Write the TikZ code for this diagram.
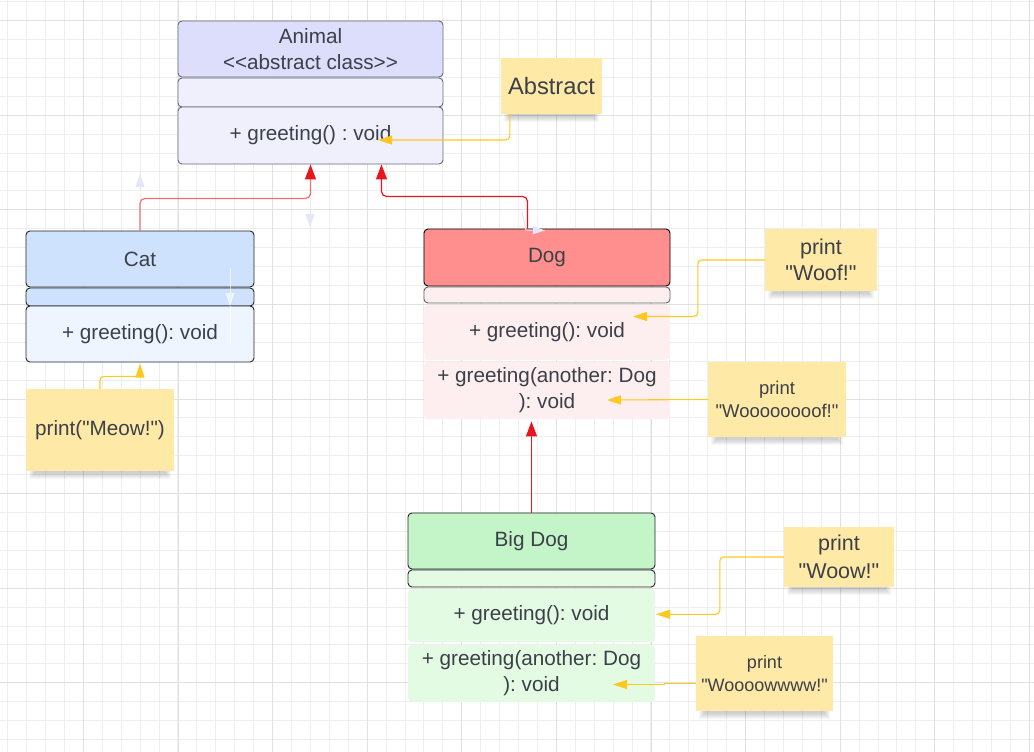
\documentclass[tikz,border=0pt]{standalone}
\usepackage{fontspec}
\setmainfont{Liberation Sans}[Ligatures=TeXOff]
\usetikzlibrary{arrows.meta,calc}
\definecolor{txt}{HTML}{3C4049}
\definecolor{gridminor}{HTML}{EEEEEE}
\definecolor{gridmajor}{HTML}{E0E0E0}
\definecolor{animH}{HTML}{DDDDFC}
\definecolor{animL}{HTML}{F0F0FD}
\definecolor{animB}{HTML}{666A7A}
\definecolor{catH}{HTML}{CEE2FD}
\definecolor{catL}{HTML}{EEF5FF}
\definecolor{dogH}{HTML}{FF8F8F}
\definecolor{dogL}{HTML}{FDEFEF}
\definecolor{bdH}{HTML}{C3F5C8}
\definecolor{bdL}{HTML}{E3FAE3}
\definecolor{noteY}{HTML}{FFE9A6}
\definecolor{yl}{HTML}{FFC81E}
\definecolor{rd}{HTML}{E8161C}
\definecolor{rdlight}{HTML}{EF6F6F}
\definecolor{faint}{HTML}{E6E6F9}
\newcommand\fsz[2]{\fontsize{#1}{#2}\selectfont}
\newcommand\noteshadow[1]{\foreach \k in {0,...,5}{\fill[black,opacity=0.03] ($(#1.south west)+(3+\k,0)$) rectangle ($(#1.south east)+(-3-\k,8-\k)$);}}
\frenchspacing
\begin{document}
\begin{tikzpicture}[x=1pt,y=-1pt,
  sec/.style={rectangle, rounded corners=4pt, line width=0.9pt, inner sep=0pt, align=center, text=txt, font=\fsz{20.7}{26}},
  note/.style={rectangle, fill=noteY, inner sep=0pt, align=center, text=txt},
  ylink/.style={draw=yl, line width=1.1pt, rounded corners=4pt, -{Triangle[length=14pt,width=9pt]}},
  rlink/.style={draw=rd, line width=1.2pt, rounded corners=5pt, -{Triangle[length=15pt,width=11pt]}},
  fa/.style={draw=faint, line width=1pt, -{Triangle[length=13pt,width=9pt]}}]
\useasboundingbox (0,0) rectangle (1034,752);
\fill[white] (0,0) rectangle (1034,752);
% grid
\foreach \i in {0,...,54} \draw[gridminor, line width=0.8pt] ({7.6+18.92*\i},0) -- ({7.6+18.92*\i},752);
\foreach \i in {0,...,39} \draw[gridminor, line width=0.8pt] (0,{1.6+18.92*\i}) -- (1034,{1.6+18.92*\i});
\foreach \i in {0,...,10} \draw[gridmajor, line width=0.8pt] ({83.3+94.6*\i},0) -- ({83.3+94.6*\i},752);
\foreach \i in {0,...,7} \draw[gridmajor, line width=0.8pt] (0,{20.5+94.6*\i}) -- (1034,{20.5+94.6*\i});

% Animal
\node[sec, fill=animH, draw=animB, minimum width=265pt, minimum height=56pt] (animh) at (310.5,49) {Animal\\<<abstract class>>};
\node[sec, fill=animL, draw=animB, minimum width=265pt, minimum height=29pt] (anima) at (310.5,92.5) {};
\node[sec, fill=animL, draw=animB, minimum width=265pt, minimum height=57pt] (animm) at (310.5,135.5) {+ greeting() : void};

% Cat
\node[sec, fill=catH, draw=black!85, minimum width=228pt, minimum height=56pt] (cath) at (140,259) {Cat};
\node[sec, fill=catH, draw=black!85, minimum width=228pt, minimum height=18pt] (cata) at (140,297) {};
\node[sec, fill=catL, draw=black!85, minimum width=228pt, minimum height=56pt] (catm) at (140,334) {+ greeting(): void};

% Dog
\node[sec, fill=dogH, draw=black, minimum width=246pt, minimum height=57pt] (dogh) at (547,257.5) {Dog};
\node[sec, fill=dogL, draw=black!60, minimum width=246pt, minimum height=16pt] (doga) at (547,295) {};
\node[sec, fill=dogL, minimum width=246pt, minimum height=55pt] (dogm1) at (547,332.5) {+ greeting(): void};
\node[sec, fill=dogL, minimum width=246pt, minimum height=57pt] (dogm2) at (547,390.5) {+ greeting(another: Dog\\): void};

% Big Dog
\node[sec, fill=bdH, draw=black!85, minimum width=247pt, minimum height=56pt] (bdh) at (531.5,541) {Big Dog};
\node[sec, fill=bdL, draw=black!85, minimum width=247pt, minimum height=17pt] (bda) at (531.5,578.5) {};
\node[sec, fill=bdL, minimum width=247pt, minimum height=53pt] (bdm1) at (531.5,615.5) {+ greeting(): void};
\node[sec, fill=bdL, minimum width=247pt, minimum height=57pt] (bdm2) at (531.5,673.5) {+ greeting(another: Dog\\): void};

% Notes
\node[note, minimum width=101pt, minimum height=56pt, font=\fsz{23.7}{28}] (abs) at (551.5,86) {Abstract};
\node[note, minimum width=148pt, minimum height=82pt, font=\fsz{20.7}{26}] (meow) at (100,430) {print("Meow!")};
\node[note, minimum width=112pt, minimum height=62pt, font=\fsz{21.5}{26}] (woof) at (821,260) {print\\"Woof!"};
\node[note, minimum width=138pt, minimum height=75pt, font=\fsz{18.5}{23}] (wooof) at (777,399.5) {print\\"Woooooooof!"};
\node[note, minimum width=110pt, minimum height=60pt, font=\fsz{21.5}{28}] (woow) at (839,557) {print\\"Woow!"};
\node[note, minimum width=137pt, minimum height=75pt, font=\fsz{18}{23}] (wooow) at (764.5,673.5) {print\\"Woooowwww!"};
\noteshadow{abs}
\noteshadow{meow}
\noteshadow{woof}
\noteshadow{wooof}
\noteshadow{woow}
\noteshadow{wooow}

% free ends
\coordinate (absT) at (378,140);
\coordinate (meowT) at (140,363.5);
\coordinate (woofT) at (633,316.5);
\coordinate (wooofT) at (607,400);
\coordinate (woowT) at (656,614.3);
\coordinate (wooowT) at (613,684.5);

% yellow connectors
\draw[ylink] ($(abs.south west)+(9,0)$) |- (absT);
\draw[ylink] (meow.north) -- ++(0,-12.5) -| (meowT);
\draw[ylink] (woof.west) -- ++(-67,0) |- (woofT);
\draw[ylink] (wooof.west) -- (wooofT);
\draw[ylink] (woow.west) -- ++(-64,0) |- (woowT);
\draw[ylink, rounded corners=0pt] ($(wooow.west)+(0,10)$) -- ++(-31.5,0) -- ++(0,1) -- (wooowT);

% red connectors
\draw[rlink, draw=rdlight, -{Triangle[length=15pt,width=11pt,color=rd]}] (cath.north) |- ($(animm.south)+(0,34)$) -- (animm.south);
\draw[rlink] ($(dogh.north)+(-19.5,0)$) |- ($(animm.south)+(71,32)$) -- ($(animm.south)+(71,0)$);
\draw[rlink, shorten >=2pt] (bdh.north) -- (bdh.north |- dogm2.south);

% faint artifacts
\draw[fa] (140,190) -- (140,174);
\draw[fa] (310,203) -- (310,227);
\draw[fa, draw=white, opacity=0.6] (230,268) -- (230,306);
\draw[draw=white, opacity=0.6, line width=1pt] (230,306) -- (230,345);
\draw[fa, -{Triangle[length=12pt,width=8pt]}] (522,212) -- (526,230) -- (545,230.5);
\end{tikzpicture}
\end{document}
